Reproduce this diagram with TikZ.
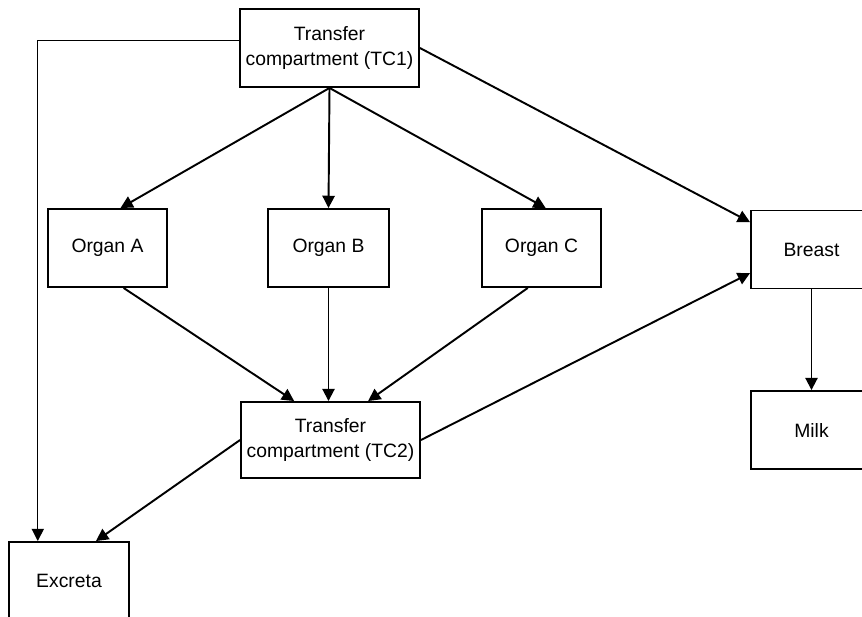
\documentclass[tikz,border=0pt]{standalone}
\usepackage{fontspec}
\setmainfont{Liberation Sans}
\usetikzlibrary{arrows.meta}
\begin{document}
\begin{tikzpicture}[x=0.02cm,y=-0.02cm,
  box/.style={draw,line width=1.1pt,inner sep=0pt,align=center,
    minimum height=1.56cm,font=\fontsize{11}{14.2}\selectfont},
  flow/.style={line width=1.1pt,-{Triangle[length=7pt,width=7pt]}},
  thinflow/.style={line width=0.6pt,-{Triangle[length=7pt,width=7pt]}}]
\path[use as bounding box,clip] (0,0) rectangle (862,616);

\node[box,minimum width=3.58cm] (tcone) at (329.5,48) {Transfer\\compartment (TC1)};
\node[box,minimum width=2.38cm] (organa) at (107.5,248) {Organ A};
\node[box,minimum width=2.42cm] (organb) at (328.5,248) {Organ B};
\node[box,minimum width=2.38cm] (organc) at (541.5,248) {Organ C};
\node[box,minimum width=2.42cm] (breast) at (811.5,249.5) {Breast};
\node[box,minimum width=2.42cm] (milk) at (811.5,430) {Milk};
\node[box,minimum width=3.58cm,minimum height=1.52cm] (tctwo) at (330.5,440) {Transfer\\compartment (TC2)};
\node[box,minimum width=2.4cm] (excreta) at (69,581) {Excreta};

\draw[thinflow] (tcone.175) -| (excreta.128);
\draw[flow] (tcone.south) -- (organa.72);
\draw[flow] (tcone.south) -- (organb.north);
\draw[flow] (tcone.south) -- (organc.84);
\draw[flow] (tcone.east) -- (breast.156);

\draw[flow] (organa.-68) -- (tctwo.133);
\draw[flow] (organb.south) -- (organb.south |- tctwo.north);
\draw[flow] (organc.-109) -- (tctwo.46);
\draw[flow] (tctwo.east) -- (breast.-159);
\draw[flow] (tctwo.west) -- (excreta.56);
\draw[flow] (breast.south) -- (milk.north);
\end{tikzpicture}
\end{document}
